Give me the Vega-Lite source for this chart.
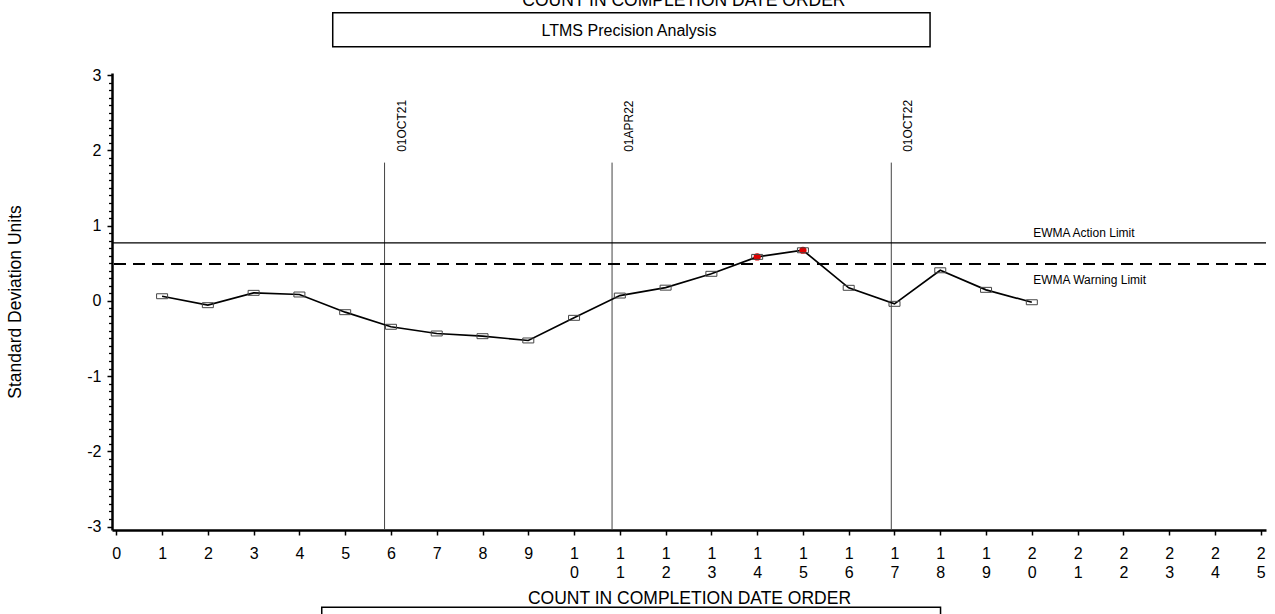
{
  "$schema": "https://vega.github.io/schema/vega-lite/v6.json",
  "width": 1154,
  "height": 457,
  "autosize": {"type": "none"},
  "padding": {"left": 112, "top": 73, "right": 9, "bottom": 84},
  "background": "white",
  "config": {"view": {"stroke": null}, "font": "Liberation Sans", "axis": {"labelOverlap": false}},
  "resolve": {"axis": {"y": "independent"}},
  "datasets": {
    "ewma": [
      {"count": 1, "sdu": 0.061, "flag": "no"},
      {"count": 2, "sdu": -0.058, "flag": "no"},
      {"count": 3, "sdu": 0.106, "flag": "no"},
      {"count": 4, "sdu": 0.084, "flag": "no"},
      {"count": 5, "sdu": -0.151, "flag": "no"},
      {"count": 6, "sdu": -0.345, "flag": "no"},
      {"count": 7, "sdu": -0.434, "flag": "no"},
      {"count": 8, "sdu": -0.47, "flag": "no"},
      {"count": 9, "sdu": -0.527, "flag": "no"},
      {"count": 10, "sdu": -0.226, "flag": "no"},
      {"count": 11, "sdu": 0.07, "flag": "no"},
      {"count": 12, "sdu": 0.175, "flag": "no"},
      {"count": 13, "sdu": 0.359, "flag": "no"},
      {"count": 14, "sdu": 0.584, "flag": "yes"},
      {"count": 15, "sdu": 0.672, "flag": "yes"},
      {"count": 16, "sdu": 0.173, "flag": "no"},
      {"count": 17, "sdu": -0.04, "flag": "no"},
      {"count": 18, "sdu": 0.406, "flag": "no"},
      {"count": 19, "sdu": 0.146, "flag": "no"},
      {"count": 20, "sdu": -0.019, "flag": "no"}
    ],
    "dates": [
      {"count": 5.86, "label": "01OCT21"},
      {"count": 10.83, "label": "01APR22"},
      {"count": 16.93, "label": "01OCT22"}
    ],
    "limits": [
      {"limit": "EWMA Action Limit", "value": 0.77},
      {"limit": "EWMA Warning Limit", "value": 0.491}
    ]
  },
  "layer": [
    {
      "data": {"name": "dates"},
      "mark": {"type": "rule", "color": "#444444", "strokeWidth": 1},
      "encoding": {
        "x": {
          "field": "count", "type": "quantitative",
          "scale": {"domain": [-0.094, 25.116], "nice": false, "zero": false},
          "axis": {
            "values": [0,0.5,1,1.5,2,2.5,3,3.5,4,4.5,5,5.5,6,6.5,7,7.5,8,8.5,9,9.5,10,10.5,11,11.5,12,12.5,13,13.5,14,14.5,15,15.5,16,16.5,17,17.5,18,18.5,19,19.5,20,20.5,21,21.5,22,22.5,23,23.5,24,24.5,25],
            "labelExpr": "abs(datum.value - round(datum.value)) > 0.01 ? '' : (datum.value >= 10 ? split(toString(round(datum.value)), '') : toString(round(datum.value)))",
            "tickSize": {"condition": {"test": "abs(datum.value - round(datum.value)) > 0.01", "value": 3}, "value": 5},
            "grid": false,
            "domainColor": "black", "domainWidth": 2.5,
            "tickColor": "black", "tickWidth": 1.5,
            "labelFontSize": 16, "labelColor": "black", "labelPadding": 10, "labelLineHeight": 19,
            "labelOverlap": false, "labelFlush": false, "labelFont": "Liberation Sans",
            "title": "COUNT IN COMPLETION DATE ORDER",
            "titleFontSize": 17.5, "titleFontWeight": "normal", "titleColor": "black",
            "titlePadding": 9, "titleFont": "Liberation Sans"
          }
        },
        "y": {
          "datum": 1.837, "type": "quantitative",
          "scale": {"domain": [-3.046, 3.028], "nice": false, "zero": false},
          "axis": {
            "orient": "left",
            "values": [-3, -2, -1, 0, 1, 2, 3],
            "labelExpr": "toString(round(datum.value))",
            "tickSize": 5,
            "grid": false,
            "domainColor": "black", "domainWidth": 2.5,
            "tickColor": "black", "tickWidth": 1.5,
            "labelFontSize": 16, "labelColor": "black", "labelPadding": 6,
            "labelOverlap": false, "labelFlush": false, "labelFont": "Liberation Sans",
            "title": "Standard Deviation Units",
            "titleFontSize": 17.5, "titleFontWeight": "normal", "titleColor": "black",
            "titlePadding": 62, "titleFont": "Liberation Sans"
          }
        },
        "y2": {"datum": -3.046}
      }
    },
    {
      "data": {"name": "dates"},
      "mark": {"type": "text", "angle": 270, "align": "left", "baseline": "middle", "dy": 17, "fontSize": 12, "color": "black", "font": "Liberation Sans"},
      "encoding": {
        "x": {"field": "count", "type": "quantitative"},
        "y": {"datum": 1.98, "type": "quantitative", "axis": null},
        "text": {"field": "label"}
      }
    },
    {
      "data": {"name": "limits"},
      "transform": [{"filter": "datum.limit == 'EWMA Action Limit'"}],
      "mark": {"type": "rule", "color": "black", "strokeWidth": 1.2},
      "encoding": {"y": {"field": "value", "type": "quantitative", "axis": null}}
    },
    {
      "data": {"name": "limits"},
      "transform": [{"filter": "datum.limit == 'EWMA Warning Limit'"}],
      "mark": {"type": "rule", "color": "black", "strokeWidth": 2, "strokeDash": [12, 7]},
      "encoding": {"y": {"field": "value", "type": "quantitative", "axis": null}}
    },
    {
      "data": {"name": "limits"},
      "transform": [{"filter": "datum.limit == 'EWMA Action Limit'"}],
      "mark": {"type": "text", "align": "left", "baseline": "middle", "dy": -9.5, "fontSize": 12, "color": "black", "font": "Liberation Sans"},
      "encoding": {
        "x": {"datum": 20.03, "type": "quantitative"},
        "y": {"field": "value", "type": "quantitative", "axis": null},
        "text": {"field": "limit"}
      }
    },
    {
      "data": {"name": "limits"},
      "transform": [{"filter": "datum.limit == 'EWMA Warning Limit'"}],
      "mark": {"type": "text", "align": "left", "baseline": "middle", "dy": 16, "fontSize": 12, "color": "black", "font": "Liberation Sans"},
      "encoding": {
        "x": {"datum": 20.03, "type": "quantitative"},
        "y": {"field": "value", "type": "quantitative", "axis": null},
        "text": {"field": "limit"}
      }
    },
    {
      "data": {"name": "ewma"},
      "mark": {"type": "line", "color": "black", "strokeWidth": 1.7},
      "encoding": {
        "x": {"field": "count", "type": "quantitative"},
        "y": {
          "field": "sdu", "type": "quantitative",
          "axis": {
            "orient": "left",
            "values": [-2.9,-2.8,-2.7,-2.6,-2.5,-2.4,-2.3,-2.2,-2.1,-1.9,-1.8,-1.7,-1.6,-1.5,-1.4,-1.3,-1.2,-1.1,-0.9,-0.8,-0.7,-0.6,-0.5,-0.4,-0.3,-0.2,-0.1,0.1,0.2,0.3,0.4,0.5,0.6,0.7,0.8,0.9,1.1,1.2,1.3,1.4,1.5,1.6,1.7,1.8,1.9,2.1,2.2,2.3,2.4,2.5,2.6,2.7,2.8,2.9],
            "labels": false,
            "domain": false,
            "grid": false,
            "tickSize": 3.5,
            "tickColor": "black", "tickWidth": 1.3,
            "title": null,
            "minExtent": 0
          }
        }
      }
    },
    {
      "data": {"name": "ewma"},
      "transform": [{"filter": "datum.flag == 'yes'"}],
      "mark": {"type": "circle", "color": "#e00000", "opacity": 1, "size": 52},
      "encoding": {
        "x": {"field": "count", "type": "quantitative"},
        "y": {"field": "sdu", "type": "quantitative", "axis": null}
      }
    },
    {
      "data": {"name": "ewma"},
      "mark": {"type": "point", "shape": "M-1,-0.45L1,-0.45L1,0.45L-1,0.45Z", "filled": false, "stroke": "#444444", "strokeWidth": 1, "size": 121, "opacity": 1},
      "encoding": {
        "x": {"field": "count", "type": "quantitative"},
        "y": {"field": "sdu", "type": "quantitative", "axis": null}
      }
    },
    {
      "data": {"values": [
        {"box": "title", "x1": 4.728, "x2": 17.777, "y1": 3.83, "y2": 3.377},
        {"box": "legend", "x1": 4.488, "x2": 18.006, "y1": -4.073, "y2": -4.6}
      ]},
      "mark": {"type": "rect", "fill": null, "fillOpacity": 0, "stroke": "black", "strokeWidth": 1.5},
      "encoding": {
        "x": {"field": "x1", "type": "quantitative"},
        "x2": {"field": "x2"},
        "y": {"field": "y1", "type": "quantitative", "axis": null},
        "y2": {"field": "y2"}
      }
    },
    {
      "data": {"values": [{"text": "LTMS Precision Analysis", "x": 11.2, "y": 3.59}]},
      "mark": {"type": "text", "align": "center", "baseline": "middle", "fontSize": 16, "color": "black", "font": "Liberation Sans"},
      "encoding": {
        "x": {"field": "x", "type": "quantitative"},
        "y": {"field": "y", "type": "quantitative", "axis": null},
        "text": {"field": "text"}
      }
    },
    {
      "data": {"values": [{"text": "COUNT IN COMPLETION DATE ORDER", "x": 12.4, "y": 3.92}]},
      "mark": {"type": "text", "align": "center", "baseline": "alphabetic", "fontSize": 17.5, "color": "black", "font": "Liberation Sans"},
      "encoding": {
        "x": {"field": "x", "type": "quantitative"},
        "y": {"field": "y", "type": "quantitative", "axis": null},
        "text": {"field": "text"}
      }
    }
  ]
}
